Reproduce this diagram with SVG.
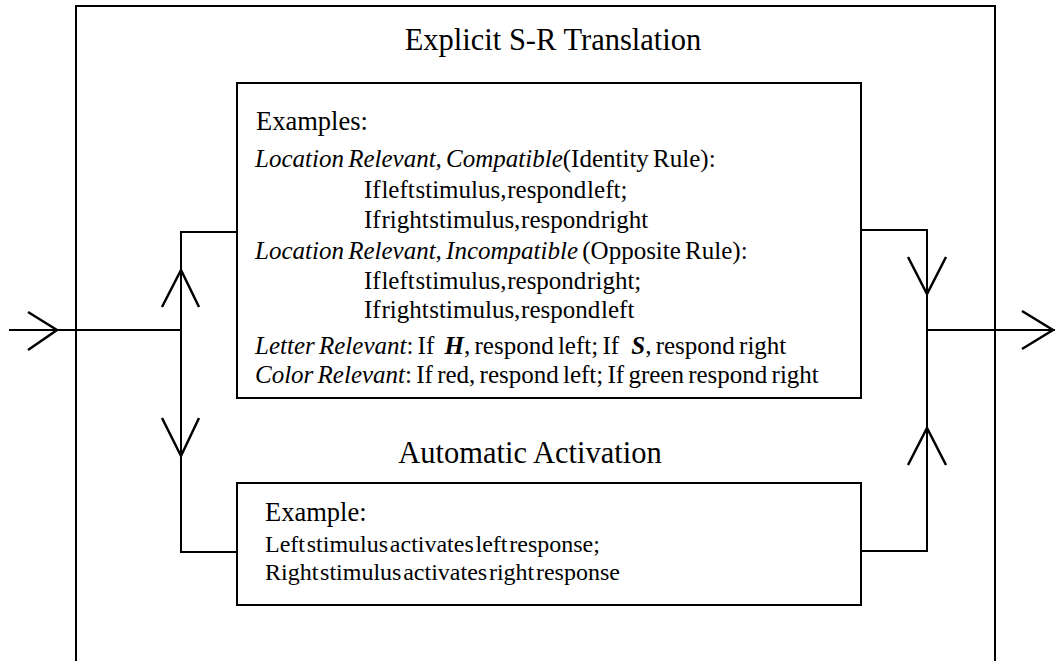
<svg xmlns="http://www.w3.org/2000/svg" width="1055" height="661" viewBox="0 0 1055 661">
<style>
text{font-family:"Liberation Serif","Times New Roman",serif;fill:#000}
.title{font-size:30.5px;text-anchor:middle}
.head{font-size:26.5px}
.body{font-size:25px;word-spacing:-2px}
.tight{word-spacing:-5.5px}
.low{font-size:24px;word-spacing:-4.25px}
.it{font-style:italic}
.bi{font-style:italic;font-weight:bold}
.box{fill:#fff;stroke:#000;stroke-width:2}
.ln{fill:none;stroke:#000;stroke-width:2}
.ah{fill:none;stroke:#000;stroke-width:2.5;stroke-linejoin:miter}
</style>
<rect width="1055" height="661" fill="#fff"/>
<g id="outer">
<path class="ln" d="M76,661 V6 H995 V661"/>
<text class="title" x="553" y="50">Explicit S-R Translation</text>
</g>
<g id="connectors">
<path class="ln" d="M9,330 H181"/>
<path class="ah" d="M28,312 L57,330 L28,350"/>
<path class="ln" d="M237,232 H181 V552 H237"/>
<path class="ah" d="M162,307 L181,270 L199,307"/>
<path class="ah" d="M162,418 L181,456 L199,418"/>
<path class="ln" d="M861,230 H927 V551 H861"/>
<path class="ln" d="M927,330 H1055"/>
<path class="ah" d="M908,257 L927,294 L946,257"/>
<path class="ah" d="M908,465 L927,428 L946,465"/>
<path class="ah" d="M1022,311 L1053,330 L1022,349"/>
</g>
<g id="explicit">
<rect class="box" x="237" y="83" width="624" height="315"/>
<text class="head" x="256" y="130">Examples:</text>
<text class="body" x="255" y="167"><tspan class="it">Location Relevant, Compatible</tspan>(Identity Rule):</text>
<text class="body tight" x="364" y="198">If left stimulus, respond left;</text>
<text class="body tight" x="364" y="228">If right stimulus, respond right</text>
<text class="body" x="255" y="259" word-spacing="-3.5"><tspan class="it">Location Relevant, Incompatible</tspan> (Opposite Rule):</text>
<text class="body tight" x="364" y="289">If left stimulus, respond right;</text>
<text class="body tight" x="364" y="318">If right stimulus, respond left</text>
<text class="body" x="255" y="354"><tspan class="it">Letter Relevant</tspan>: If <tspan class="bi" dx="6">H</tspan>, respond left; If <tspan class="bi" dx="8">S</tspan>, respond right</text>
<text class="body" x="255" y="383" word-spacing="-3.5"><tspan class="it">Color Relevant</tspan>: If red, respond left; If green respond right</text>
</g>
<g id="automatic">
<text class="title" x="530" y="463">Automatic Activation</text>
<rect class="box" x="237" y="483" width="624" height="122"/>
<text class="head" x="265" y="521">Example:</text>
<text class="low" x="265" y="552">Left stimulus activates left response;</text>
<text class="low" x="265" y="580">Right stimulus activates right response</text>
</g>
</svg>
